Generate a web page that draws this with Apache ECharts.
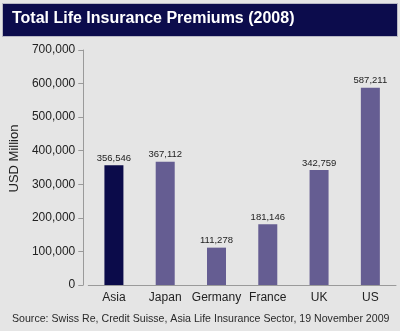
<!DOCTYPE html>
<html>
<head>
<meta charset="utf-8">
<script src="https://cdn.jsdelivr.net/npm/echarts@6/dist/echarts.min.js"></script>
<style>
  html, body { margin: 0; padding: 0; background: #e5e5e5; }
  #wrap { position: relative; width: 400px; height: 331px; background: #e5e5e5; }
  #chart { position: absolute; left: 0; top: 0; width: 400px; height: 331px; }
</style>
</head>
<body>
<div id="wrap"><div id="chart"></div></div>
<script>
// Life insurance premiums by market, 2008 (USD million)
const categories = ['Asia', 'Japan', 'Germany', 'France', 'UK', 'US'];
const premiums = [356546, 367112, 111278, 181146, 342759, 587211];
const yTicks = [0, 100000, 200000, 300000, 400000, 500000, 600000, 700000];

const titleText = 'Total Life Insurance Premiums (2008)';
const sourceText = 'Source: Swiss Re, Credit Suisse, Asia Life Insurance Sector, 19 November 2009';

const fmt = v => v.toLocaleString('en-US');
const font = '"Liberation Sans", Arial, Helvetica, sans-serif';

const chart = echarts.init(document.getElementById('chart'), null, { renderer: 'canvas' });

chart.setOption({
  backgroundColor: '#e5e5e5',
  animation: false,
  graphic: [
    { type: 'rect', left: 2, top: 3, shape: { width: 395, height: 33 },
      style: { fill: '#0c0c4c', stroke: '#b8b8c4', lineWidth: 1 } },
    { type: 'text', left: 12, top: 11,
      style: { text: titleText, fill: '#ffffff', font: 'bold 16px ' + font } },
    { type: 'text', left: 12, top: 314,
      style: { text: sourceText, fill: '#2a2a2a', font: '10.6px ' + font } }
  ],
  grid: { left: 83, right: 4, top: 50, bottom: 46 },
  xAxis: {
    type: 'category',
    data: categories,
    axisLine: { lineStyle: { color: '#9a9a9a', width: 1 } },
    axisTick: { show: false },
    axisLabel: { color: '#222', fontSize: 12, fontFamily: font, margin: 7, interval: 0 }
  },
  yAxis: {
    type: 'value',
    min: yTicks[0],
    max: yTicks[yTicks.length - 1],
    interval: 100000,
    offset: 5,
    name: 'USD Million',
    nameLocation: 'middle',
    nameGap: 51,
    nameRotate: 90,
    nameTextStyle: { color: '#222', fontSize: 13, fontFamily: font, padding: [0, 0, 0, 18] },
    axisLine: { show: true, lineStyle: { color: '#9a9a9a', width: 1 } },
    axisTick: { show: true, length: 5, lineStyle: { color: '#9a9a9a' } },
    splitLine: { show: false },
    axisLabel: { color: '#222', fontSize: 12, fontFamily: font, margin: 8, formatter: fmt }
  },
  series: [{
    type: 'bar',
    barWidth: 19,
    data: premiums.map((v, i) => ({
      value: v,
      itemStyle: { color: i === 0 ? '#0b0b4a' : '#655d92' }
    })),
    label: {
      show: true,
      position: 'top',
      distance: 2,
      color: '#222',
      fontSize: 9.5,
      fontFamily: font,
      formatter: p => fmt(p.value)
    }
  }]
});
</script>
</body>
</html>
